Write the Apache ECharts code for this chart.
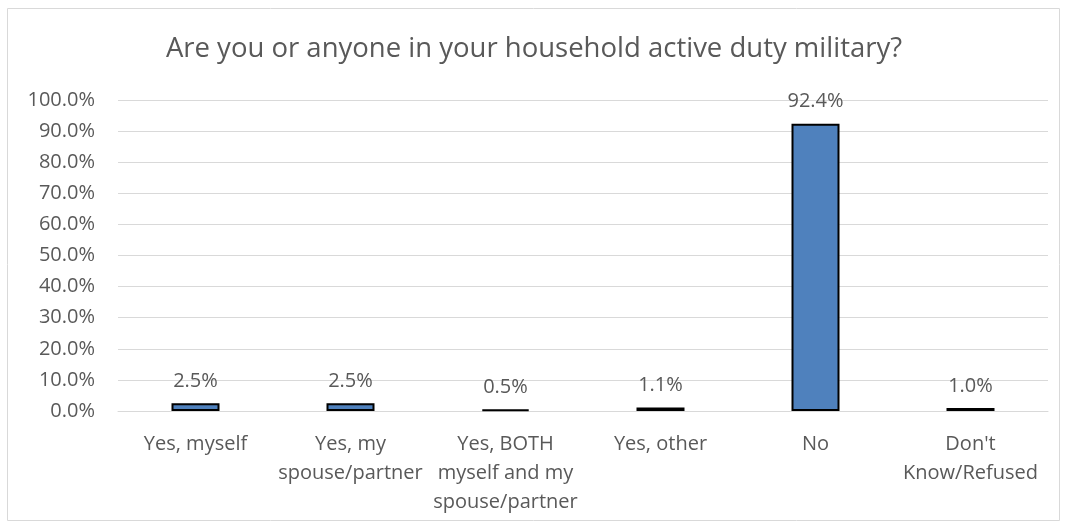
<!DOCTYPE html>
<html>
<head>
<meta charset="utf-8">
<script src="https://cdn.jsdelivr.net/npm/echarts@6/dist/echarts.min.js"></script>
<style>
html,body{margin:0;padding:0;background:#fff;}
#chart{width:1068px;height:527px;}
</style>
</head>
<body>
<div id="chart"></div>
<script>
// data
var categories = ['Yes, myself', 'Yes, my\nspouse/partner', 'Yes, BOTH\nmyself and my\nspouse/partner', 'Yes, other', 'No', "Don't\nKnow/Refused"];
var values = [2.5, 2.5, 0.5, 1.1, 92.4, 1.0];
var titleText = 'Are you or anyone in your household active duty military?';

var textColor = '#595959';
var font = '"Open Sans", "Noto Sans", sans-serif';

var chart = echarts.init(document.getElementById('chart'));
chart.setOption({
	animation: false,
	title: {
		text: titleText,
		left: 'center',
		top: 30,
		textStyle: {color: textColor, fontSize: 27.5, fontWeight: 'normal', fontFamily: font}
	},
	// outer frame
	graphic: [{
		type: 'rect',
		shape: {x: 7.5, y: 8.5, width: 1052, height: 512},
		style: {fill: 'none', stroke: '#d9d9d9', lineWidth: 1},
		silent: true
	}],
	grid: {left: 118, right: 20, top: 100, bottom: 116},
	xAxis: {
		type: 'category',
		data: categories,
		axisLine: {show: true, lineStyle: {color: '#d9d9d9', width: 1}},
		axisTick: {show: false},
		axisLabel: {color: textColor, fontSize: 20, fontFamily: font, lineHeight: 29, margin: 19, interval: 0}
	},
	yAxis: {
		type: 'value',
		min: 0,
		max: 100,
		interval: 10,
		axisLine: {show: false},
		axisTick: {show: false},
		splitLine: {lineStyle: {color: '#d9d9d9', width: 1}},
		axisLabel: {
			color: textColor, fontSize: 20, fontFamily: font, margin: 23,
			formatter: function(v){ return v.toFixed(1) + '%'; }
		}
	},
	series: [{
		type: 'bar',
		data: values,
		barWidth: 48,
		itemStyle: {color: '#4f81bd', borderColor: '#000', borderWidth: 2},
		label: {
			show: true,
			position: 'top',
			distance: 12,
			color: textColor,
			fontSize: 20,
			fontFamily: font,
			formatter: function(p){ return p.value.toFixed(1) + '%'; }
		}
	}]
});
</script>
</body>
</html>
